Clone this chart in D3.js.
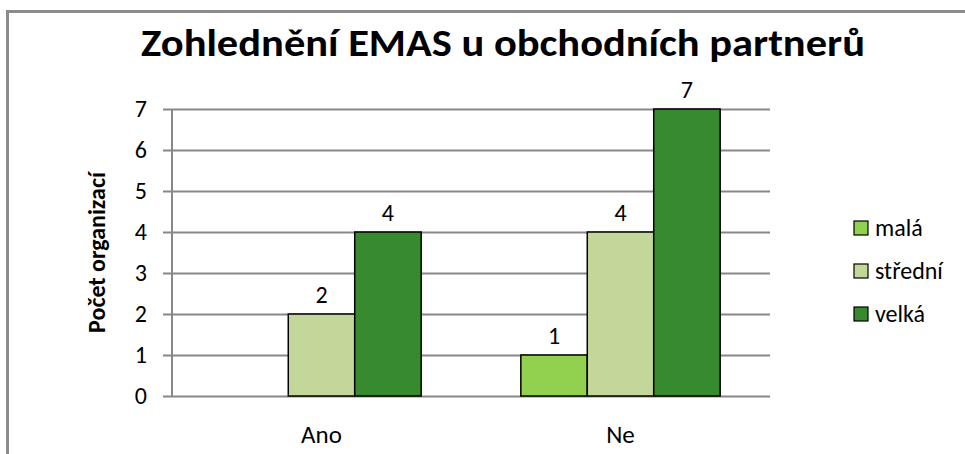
<!DOCTYPE html>
<html>
  <head>
    <meta charset="utf-8">
    <title>Zohlednění EMAS</title>
    <script src="https://d3js.org/d3.v7.min.js"></script>
    <style>
      body { margin: 0; background: #ffffff; }
      text { font-family: Carlito, "Liberation Sans", sans-serif; fill: #000; }
    </style>
  </head>
  <body>
<script>
// data
var categories = ["Ano", "Ne"];
var seriesNames = ["malá", "střední", "velká"];
var malaValues = [0, 1];
var stredniValues = [2, 4];
var velkaValues = [4, 7];
var yTicks = [0, 1, 2, 3, 4, 5, 6, 7];
var colors = ["#92d050", "#c4d79b", "#378a2d"];

var seriesValues = [malaValues, stredniValues, velkaValues];

var w = 965, h = 454;
var plot = { left: 172, right: 770, top: 109, bottom: 396 };

var svg = d3.select("body").append("svg")
  .attr("width", w)
  .attr("height", h);

// outer frame (right / bottom cut off in the original)
svg.append("rect")
  .attr("x", 7.5).attr("y", 11.5)
  .attr("width", w + 10).attr("height", h + 10)
  .attr("fill", "#fff")
  .attr("stroke", "#8c8c8c")
  .attr("stroke-width", 3);

var x0 = d3.scaleBand()
  .domain(categories)
  .range([plot.left, plot.right]);

var barW = x0.bandwidth() / 4.5;   // gap width 150%
var x1 = d3.scaleBand()
  .domain(seriesNames)
  .range([0, barW * 3]);

var y = d3.scaleLinear()
  .domain([0, 7])
  .range([plot.bottom, plot.top]);

// gridlines
svg.append("g")
  .selectAll("line")
  .data(yTicks)
  .enter()
  .append("line")
  .attr("x1", plot.left - 9)
  .attr("x2", plot.right)
  .attr("y1", function(d) { return Math.round(y(d)) + 0.5; })
  .attr("y2", function(d) { return Math.round(y(d)) + 0.5; })
  .attr("stroke", "#888888")
  .attr("stroke-width", 2);

// y axis line
svg.append("line")
  .attr("x1", plot.left).attr("x2", plot.left)
  .attr("y1", plot.top).attr("y2", plot.bottom)
  .attr("stroke", "#888888")
  .attr("stroke-width", 2);

// y tick labels
svg.append("g")
  .selectAll("text")
  .data(yTicks)
  .enter()
  .append("text")
  .attr("x", 147)
  .attr("y", function(d) { return y(d) + 8; })
  .attr("text-anchor", "end")
  .style("font-size", "24px")
  .text(function(d) { return d; });

// bars
var groups = svg.append("g")
  .selectAll("g")
  .data(categories)
  .enter()
  .append("g")
  .attr("transform", function(d) {
    return "translate(" + (x0(d) + x0.bandwidth() / 2 - barW * 1.5) + ",0)";
  });

groups.selectAll("rect")
  .data(function(d, i) {
    return seriesNames.map(function(s, j) { return { s: s, j: j, v: seriesValues[j][i] }; });
  })
  .enter()
  .filter(function(d) { return d.v > 0; })
  .append("rect")
  .attr("x", function(d) { return x1(d.s); })
  .attr("y", function(d) { return y(d.v); })
  .attr("width", x1.bandwidth())
  .attr("height", function(d) { return y(0) - y(d.v); })
  .attr("fill", function(d) { return colors[d.j]; })
  .attr("stroke", "#000")
  .attr("stroke-width", 1.5);

// value labels
groups.selectAll("text")
  .data(function(d, i) {
    return seriesNames.map(function(s, j) { return { s: s, j: j, v: seriesValues[j][i] }; });
  })
  .enter()
  .filter(function(d) { return d.v > 0; })
  .append("text")
  .attr("x", function(d) { return x1(d.s) + x1.bandwidth() / 2; })
  .attr("y", function(d) { return y(d.v) - 11; })
  .attr("text-anchor", "middle")
  .style("font-size", "24px")
  .text(function(d) { return d.v; });

// category labels
svg.append("g")
  .selectAll("text")
  .data(categories)
  .enter()
  .append("text")
  .attr("x", function(d) { return x0(d) + x0.bandwidth() / 2; })
  .attr("y", 443)
  .attr("text-anchor", "middle")
  .style("font-size", "25px")
  .text(function(d) { return d; });

// title
svg.append("text")
  .attr("x", 503)
  .attr("y", 56)
  .attr("text-anchor", "middle")
  .attr("textLength", 724)
  .attr("lengthAdjust", "spacingAndGlyphs")
  .style("font-size", "39px")
  .style("font-weight", "bold")
  .text("Zohlednění EMAS u obchodních partnerů");

// y axis title
svg.append("text")
  .attr("transform", "translate(105," + ((plot.top + plot.bottom) / 2) + ") rotate(-90)")
  .attr("text-anchor", "middle")
  .style("font-size", "24px")
  .style("font-weight", "bold")
  .text("Počet organizací");

// legend
var legend = svg.append("g")
  .selectAll("g")
  .data(seriesNames)
  .enter()
  .append("g")
  .attr("transform", function(d, i) { return "translate(854," + (228 + i * 43) + ")"; });

legend.append("rect")
  .attr("x", 0).attr("y", -7)
  .attr("width", 14).attr("height", 14)
  .attr("fill", function(d, i) { return colors[i]; })
  .attr("stroke", "#000")
  .attr("stroke-width", 1.2);

legend.append("text")
  .attr("x", 21)
  .attr("y", 8)
  .style("font-size", "24px")
  .text(function(d) { return d; });
</script>
  </body>
</html>
